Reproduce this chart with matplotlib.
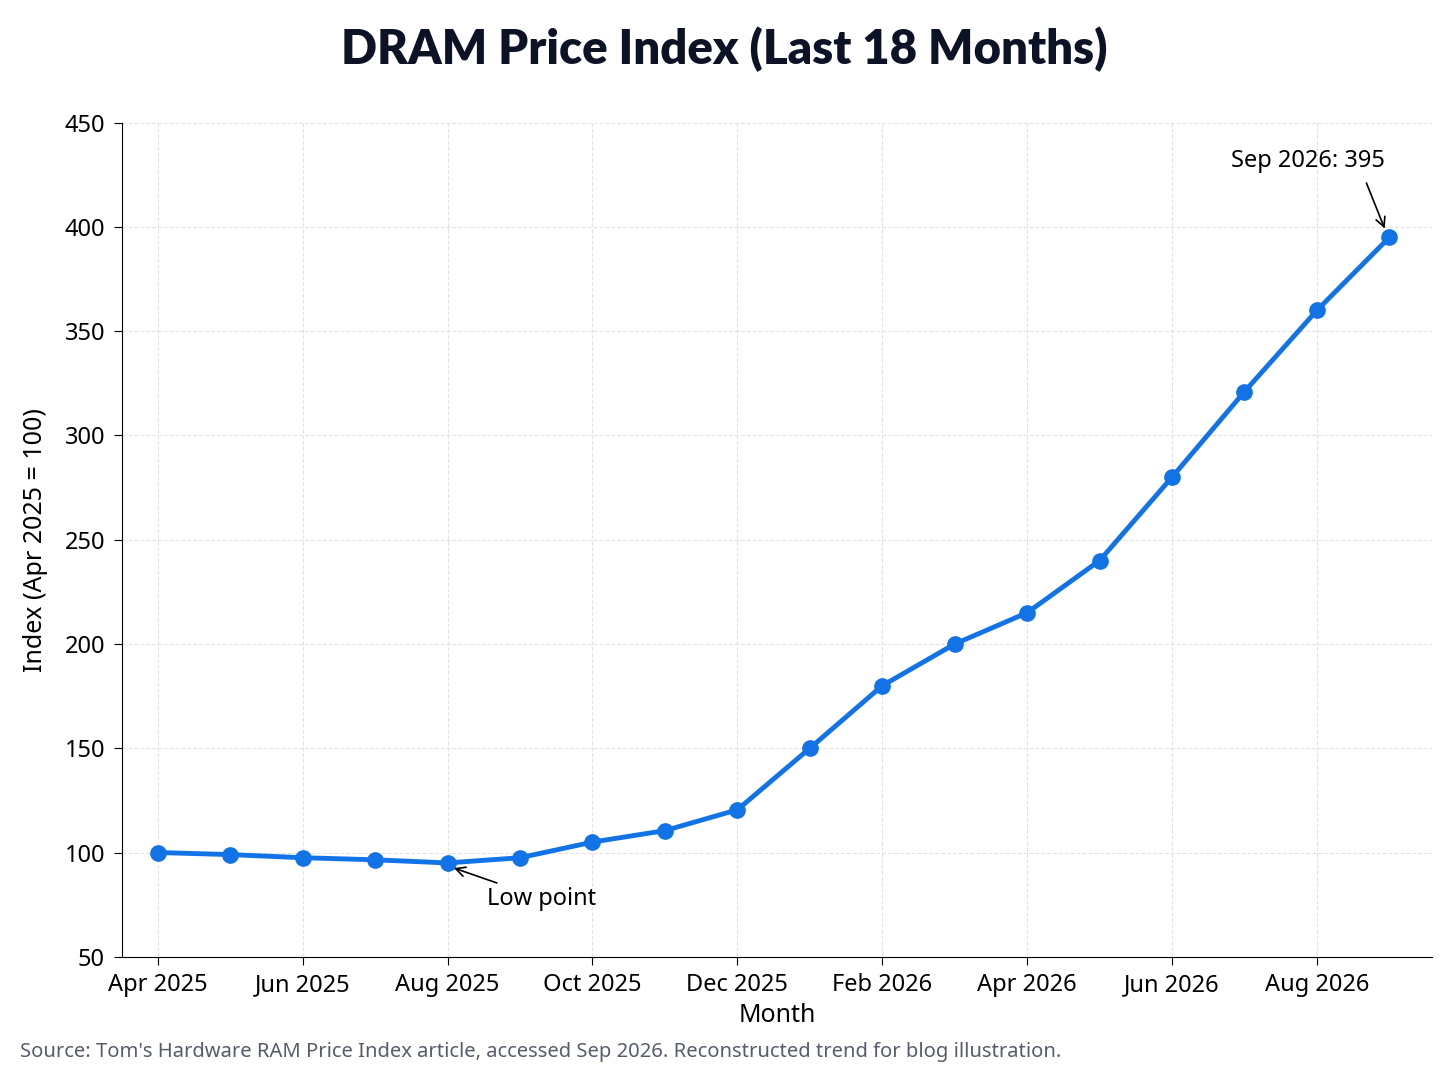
import matplotlib
matplotlib.use("Agg")
import matplotlib.pyplot as plt

plt.rcParams.update({
    "font.family": ["Noto Sans", "DejaVu Sans"],
    "font.size": 16,
    "axes.spines.top": False,
    "axes.spines.right": False,
})

months = ["Apr 2025", "May 2025", "Jun 2025", "Jul 2025", "Aug 2025", "Sep 2025",
          "Oct 2025", "Nov 2025", "Dec 2025", "Jan 2026", "Feb 2026", "Mar 2026",
          "Apr 2026", "May 2026", "Jun 2026", "Jul 2026", "Aug 2026", "Sep 2026"]
index_vals = [100, 99, 97.5, 96.5, 95, 97.5, 105, 110.5, 120.5, 150, 180, 200,
              215, 240, 280, 321, 360, 395]

BLUE = "#1273E6"
x = list(range(len(months)))

fig = plt.figure(figsize=(14.48, 10.86), dpi=100)
ax = fig.add_axes([0.084, 0.119, 0.905, 0.768])
ax.plot(x, index_vals, color=BLUE, lw=3.5, marker="o", ms=11, zorder=3)

ax.set_xlim(-0.5, 17.59)
ax.set_ylim(50, 450)
ax.set_xticks(x[::2])
ax.set_xticklabels(months[::2])
ax.set_yticks(range(50, 451, 50))
ax.tick_params(labelsize=17, length=6, pad=6)
ax.grid(True, ls="--", color="#dddddd", lw=0.8, alpha=0.8)
ax.set_axisbelow(True)
ax.set_xlabel("Month", fontsize=18, labelpad=4)
ax.set_ylabel("Index (Apr 2025 = 100)", fontsize=18, labelpad=12)

ax.annotate("Low point", xy=(x[4] + 0.05, index_vals[4] - 2), xytext=(x[4] + 0.55, 75),
            fontsize=17, arrowprops=dict(arrowstyle="->", color="black", lw=1.2,
                                         shrinkA=2, shrinkB=2))
ax.annotate("Sep 2026: 395", xy=(x[17] - 0.05, index_vals[17] + 3), xytext=(x[17] - 2.18, 429),
            fontsize=17, arrowprops=dict(arrowstyle="->", color="black", lw=1.2,
                                         relpos=(0.85, 0.0), shrinkA=6, shrinkB=2))

fig.text(0.5, 0.955, "DRAM Price Index (Last 18 Months)", ha="center", va="center",
         fontsize=34, fontweight="heavy", color="#0d1326", family=["Lato", "DejaVu Sans"])
fig.text(0.014, 0.027, "Source: Tom's Hardware RAM Price Index article, accessed Sep 2026. "
         "Reconstructed trend for blog illustration.", fontsize=14.5, color="#555d6b")

fig.savefig("out.png", dpi=100)
